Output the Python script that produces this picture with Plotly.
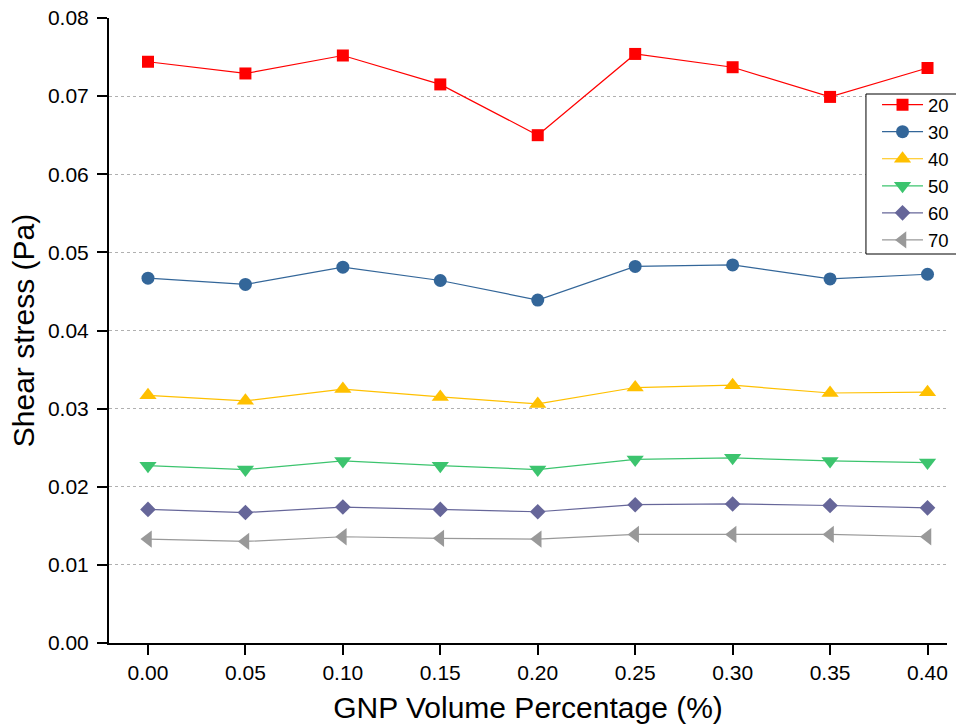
import plotly.graph_objects as go

x_vals = [0.00, 0.05, 0.10, 0.15, 0.20, 0.25, 0.30, 0.35, 0.40]
x_ticktext = ["0.00", "0.05", "0.10", "0.15", "0.20", "0.25", "0.30", "0.35", "0.40"]
y_tickvals = [0.00, 0.01, 0.02, 0.03, 0.04, 0.05, 0.06, 0.07, 0.08]
y_ticktext = ["0.00", "0.01", "0.02", "0.03", "0.04", "0.05", "0.06", "0.07", "0.08"]
grid_vals = [0.01, 0.02, 0.03, 0.04, 0.05, 0.06, 0.07]

names = ["20", "30", "40", "50", "60", "70"]
s20 = [0.0744, 0.0729, 0.0752, 0.0715, 0.0650, 0.0754, 0.0737, 0.0699, 0.0736]
s30 = [0.0467, 0.0459, 0.0481, 0.0464, 0.0439, 0.0482, 0.0484, 0.0466, 0.0472]
s40 = [0.0317, 0.0310, 0.0325, 0.0315, 0.0306, 0.0327, 0.0330, 0.0320, 0.0321]
s50 = [0.0227, 0.0222, 0.0233, 0.0227, 0.0222, 0.0235, 0.0237, 0.0233, 0.0231]
s60 = [0.0171, 0.0167, 0.0174, 0.0171, 0.0168, 0.0177, 0.0178, 0.0176, 0.0173]
s70 = [0.0133, 0.0130, 0.0136, 0.0134, 0.0133, 0.0139, 0.0139, 0.0139, 0.0136]
series = [s20, s30, s40, s50, s60, s70]

colors = ["#ff0000", "#336699", "#ffc000", "#3cc46e", "#666699", "#999999"]
symbols = ["square", "circle", "triangle-up", "triangle-down", "diamond", "triangle-left"]
sizes = [12, 13, 15, 15, 12, 15]

FONT = "Liberation Sans, Arial, sans-serif"

fig = go.Figure()
for name, ys, c, sym, sz in zip(names, series, colors, symbols, sizes):
    fig.add_trace(go.Scatter(
        x=x_vals, y=ys, name=name, mode="lines+markers",
        line=dict(color=c, width=1.2),
        marker=dict(symbol=sym, size=sz, color=c, line=dict(width=0)),
    ))

# overlay axis only for dotted gridlines
fig.add_trace(go.Scatter(x=[x_vals[0]], y=[grid_vals[0]], yaxis="y2",
                         mode="markers", marker=dict(opacity=0),
                         showlegend=False, hoverinfo="skip"))

# legend frame
fig.add_shape(type="rect", xref="paper", yref="paper",
              x0=0.9033, x1=1.06, y0=0.6224, y1=0.8784,
              line=dict(color="black", width=1), fillcolor="white",
              layer="above")

fig.update_layout(
    width=956, height=727,
    margin=dict(l=109, r=9, t=18, b=84, autoexpand=False),
    paper_bgcolor="white", plot_bgcolor="white",
    font=dict(family=FONT, size=20, color="black"),
    showlegend=True,
    legend=dict(x=0.9165, y=0.891, xanchor="left", yanchor="top",
                bgcolor="rgba(0,0,0,0)", borderwidth=0,
                font=dict(size=18.5, family=FONT), tracegroupgap=0,
                itemwidth=41),
    xaxis=dict(range=[-0.02, 0.41], tickvals=x_vals, ticktext=x_ticktext,
               automargin=False, ticklabeloverflow="allow",
               showline=True, linecolor="black", linewidth=2,
               ticks="outside", ticklen=10, tickwidth=2, tickcolor="black",
               showgrid=False, zeroline=False,
               tickfont=dict(size=21, family=FONT),
               title=dict(text="GNP Volume Percentage (%)",
                          font=dict(size=30, family=FONT), standoff=14)),
    yaxis=dict(range=[0, 0.08], tickvals=y_tickvals, ticktext=y_ticktext,
               automargin=False, ticklabeloverflow="allow",
               showline=True, linecolor="black", linewidth=2,
               ticks="outside", ticklen=10, tickwidth=2, tickcolor="black",
               showgrid=False, zeroline=False, ticklabelstandoff=4,
               tickfont=dict(size=21, family=FONT),
               title=dict(text="Shear stress (Pa)",
                          font=dict(size=30, family=FONT), standoff=4)),
    yaxis2=dict(range=[0, 0.08], overlaying="y", tickvals=grid_vals,
                automargin=False,
                showticklabels=False, showgrid=True, gridcolor="#b0b0b0",
                griddash="dot", gridwidth=1, zeroline=False, showline=False,
                ticks="", layer="below traces"),
)

fig.write_html("out.html", config={"displayModeBar": False},
               post_script="document.body.style.margin='0px';")
